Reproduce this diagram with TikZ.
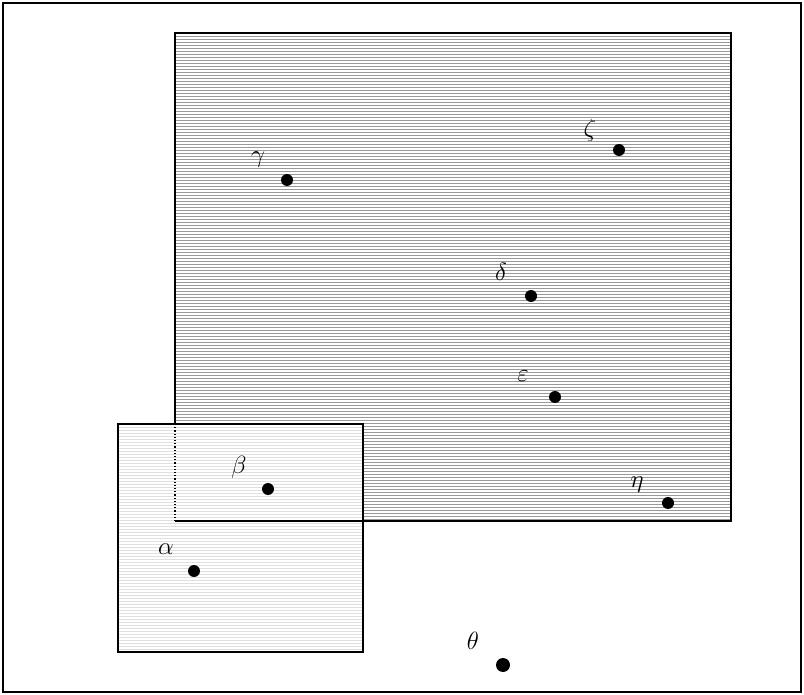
\documentclass[tikz,border=0pt]{standalone}
\tikzset{
  dot/.style={circle, fill=black, inner sep=0pt, minimum size=12pt},
  lbl/.style={inner sep=0pt, font=\fontsize{26}{30}\selectfont},
  scan/.style={white, line width=1.1pt}
}
\begin{document}
\begin{tikzpicture}[x=1pt, y=-1pt]
  \useasboundingbox (0,0) rectangle (804,695);
  % frame
  \draw[line width=2pt] (3,3) rectangle (801,692);
  % shaded regions
  \fill[gray!80] (175,33) rectangle (731,521);
  \fill[gray!25] (118,424) rectangle (363,652);
  % scan lines
  \foreach \y in {35,38,...,520}
    \draw[scan] (175,\y) -- (731,\y);
  \foreach \y in {426,429,...,651}
    \draw[scan] (118,\y) -- (363,\y);
  \fill[gray!25] (175,424) rectangle (363,521);
  \foreach \y in {426,429,...,520}
    \draw[scan] (175,\y) -- (363,\y);
  % points
  \node[dot] (a) at (194,571) {};
  \node[dot] (b) at (268,489) {};
  \node[dot] (g) at (287,180) {};
  \node[dot] (d) at (531,296) {};
  \node[dot] (e) at (555,397) {};
  \node[dot] (z) at (619,150) {};
  \node[dot] (h) at (668,503) {};
  \node[dot, minimum size=14pt] (t) at (503,665) {};
  % labels
  \node[lbl] (la) at (166,549) {$\alpha$};
  \node[lbl] (lb) at (239,467) {$\beta$};
  \node[lbl] (lg) at (258,160) {$\gamma$};
  \node[lbl] (ld) at (501,272) {$\delta$};
  \node[lbl] (le) at (523,376) {$\varepsilon$};
  \node[lbl] (lz) at (590,130) {$\zeta$};
  \node[lbl] (lh) at (637,485) {$\eta$};
  \node[lbl] (lt) at (473,641) {$\theta$};
  % outlines
  \draw[line width=1.5pt] (175,424) -- (175,33) -- (731,33) -- (731,521) -- (175,521);
  \draw[line width=1.2pt, dotted] (175,424) -- (175,521);
  \draw[line width=1.5pt] (118,424) rectangle (363,652);
\end{tikzpicture}
\end{document}
